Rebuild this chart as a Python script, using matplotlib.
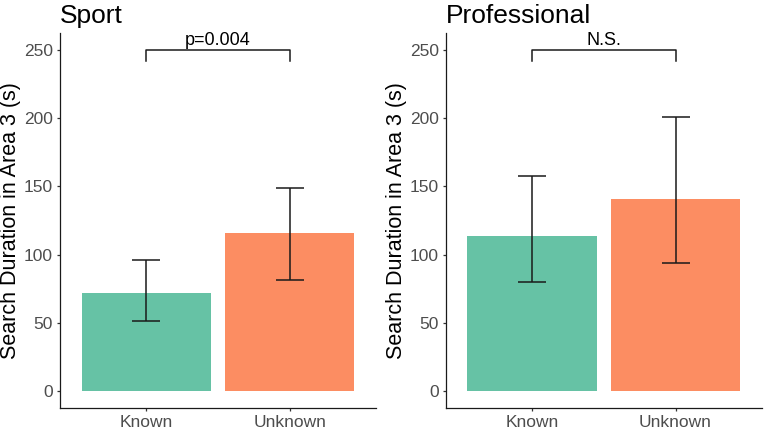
import numpy as np
import matplotlib.pyplot as plt

plt.rcParams['font.family'] = ['Liberation Sans', 'DejaVu Sans']

# data
panels = ['Sport', 'Professional']
groups = ['Known', 'Unknown']
means = {'Sport': [72, 115.5], 'Professional': [113.5, 140.5]}
lower = {'Sport': [51.5, 81], 'Professional': [80, 93.5]}
upper = {'Sport': [96, 149], 'Professional': [157.5, 201]}
sig_text = {'Sport': 'p=0.004', 'Professional': 'N.S.'}
colors = ['#66C2A5', '#FC8D62']
ylabel = 'Search Duration in Area 3 (s)'

fig = plt.figure(figsize=(7.65, 4.3), dpi=100)
rects = [[0.0784, 0.0512, 0.4131, 0.8721], [0.5826, 0.0512, 0.4131, 0.8721]]

for name, rect in zip(panels, rects):
    ax = fig.add_axes(rect)
    x = np.arange(1, len(groups) + 1)
    m = np.array(means[name])
    lo = np.array(lower[name])
    hi = np.array(upper[name])
    ax.bar(x, m, width=0.9, color=colors, zorder=1)
    ax.errorbar(x, m, yerr=[m - lo, hi - m], fmt='none', ecolor='#1a1a1a',
                elinewidth=1.1, capsize=10, capthick=1.1, zorder=2)

    # significance bracket
    ax.plot([1, 1, 2, 2], [242, 250, 250, 242], color='#1a1a1a', lw=1.1)
    ax.text(1.5, 251, sig_text[name], ha='center', va='bottom', fontsize=13)

    ax.set_xlim(0.4, 2.6)
    ax.set_ylim(-12.5, 262.5)
    ax.set_xticks(x)
    ax.set_xticklabels(groups)
    ax.set_yticks([0, 50, 100, 150, 200, 250])
    ax.tick_params(labelsize=12.5, labelcolor='#4D4D4D', length=2.5, width=0.9,
                   color='#333333', pad=2.5)
    for s in ['top', 'right']:
        ax.spines[s].set_visible(False)
    for s in ['left', 'bottom']:
        ax.spines[s].set_linewidth(0.9)
        ax.spines[s].set_color('#1a1a1a')
    ax.set_ylabel(ylabel, fontsize=15.5, labelpad=2)
    ax.set_title(name, loc='left', fontsize=19, pad=7)

fig.savefig('out.png', dpi=100)
